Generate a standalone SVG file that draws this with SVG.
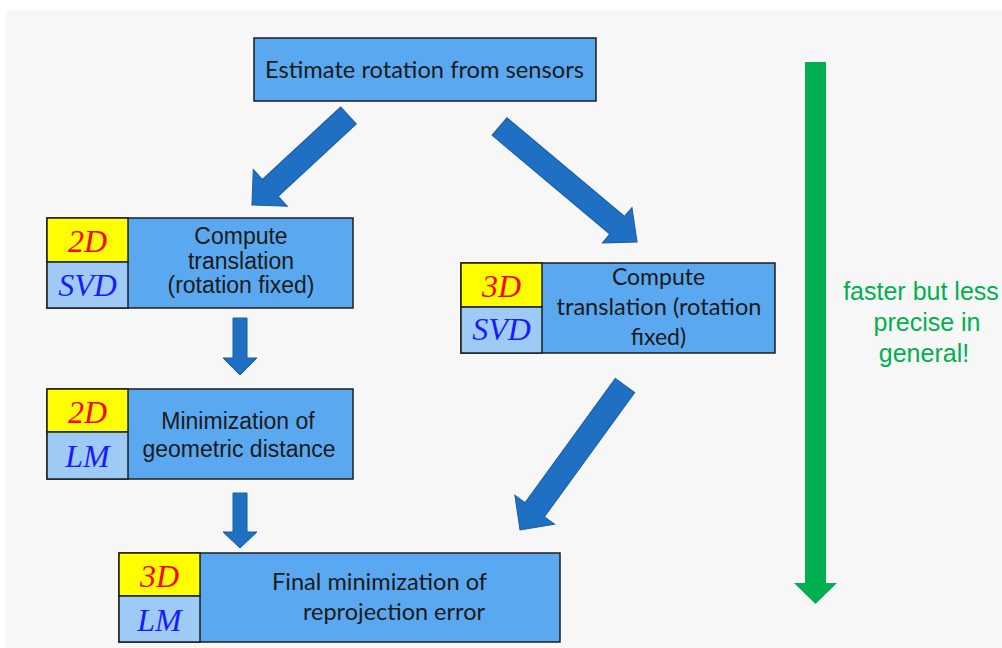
<svg xmlns="http://www.w3.org/2000/svg" width="1002" height="648" viewBox="0 0 1002 648">
<style>
.box{fill:#5aa9f0;stroke:#1e1e1e;stroke-width:1.5}
.yel{fill:#ffff00;stroke:#1e1e1e;stroke-width:1.5}
.lb{fill:#9dcbf6;stroke:#1e1e1e;stroke-width:1.5}
.tag2{font-family:"Liberation Serif",serif;font-style:italic;font-size:32px;fill:#ff0000;text-anchor:middle}
.tagm{font-family:"Liberation Serif",serif;font-style:italic;font-size:32px;fill:#1a1aff;text-anchor:middle}
.ar{font-family:"Liberation Sans",Arial,sans-serif;font-size:23px;fill:#1a1a1a;text-anchor:middle}
.ca{font-family:Lato,"Liberation Sans",sans-serif;font-size:23px;fill:#1a1a1a;text-anchor:middle}
.blue{fill:#1f6fc3;stroke:#185ca6;stroke-width:1}
.green{fill:#00b050}
.gt{font-family:"Liberation Sans",Arial,sans-serif;font-size:25px;fill:#00b050;text-anchor:middle}
</style>
<rect x="0" y="0" width="1002" height="648" fill="#ffffff"/>
<rect x="6" y="10" width="996" height="638" fill="#f7f7f7"/>

<g id="connectors">
<polygon class="blue" transform="translate(348.5,115.5) rotate(137.2)" points="0,-11.5 106.6,-11.5 106.6,-25 131.6,0 106.6,25 106.6,11.5 0,11.5"/>
<polygon class="blue" transform="translate(499.5,126.5) rotate(40)" points="0,-11.5 153.6,-11.5 153.6,-23 179.6,0 153.6,23 153.6,11.5 0,11.5"/>
<polygon class="blue" transform="translate(625,385.5) rotate(126)" points="0,-12 153.6,-12 153.6,-24.5 178.6,0 153.6,24.5 153.6,12 0,12"/>
<polygon class="blue" points="233,318 247,318 247,358 257,358 240,375 223,358 233,358"/>
<polygon class="blue" points="233,493 247,493 247,532 257,532 240,548 223,532 233,532"/>
</g>

<g id="speed-arrow">
<polygon class="green" points="805,62 826,62 826,583 837,583 815.5,604 794,583 805,583"/>
<text class="gt" x="921" y="300">faster but less</text>
<text class="gt" x="927" y="331">precise in</text>
<text class="gt" x="924" y="362">general!</text>
</g>

<g id="node-estimate">
<rect class="box" x="254" y="38" width="342" height="63"/>
<text class="ca" x="424.5" y="78" textLength="319" lengthAdjust="spacingAndGlyphs">Estimate rotation from sensors</text>
</g>

<g id="node-2d-svd">
<rect class="box" x="47" y="218" width="306" height="90"/>
<rect class="yel" x="47" y="218" width="81" height="44"/>
<rect class="lb" x="47" y="262" width="81" height="46"/>
<text class="tag2" x="87.5" y="252">2D</text>
<text class="tagm" x="87.5" y="296">SVD</text>
<text class="ar" x="241" y="244">Compute</text>
<text class="ar" x="241" y="269">translation</text>
<text class="ar" x="241" y="293">(rotation fixed)</text>
</g>

<g id="node-3d-svd">
<rect class="box" x="461" y="263" width="314" height="90"/>
<rect class="yel" x="461" y="263" width="81" height="44"/>
<rect class="lb" x="461" y="307" width="81" height="46"/>
<text class="tag2" x="501.5" y="297">3D</text>
<text class="tagm" x="501.5" y="340">SVD</text>
<text class="ca" x="658.5" y="285">Compute</text>
<text class="ca" x="659" y="315" textLength="205" lengthAdjust="spacingAndGlyphs">translation (rotation</text>
<text class="ca" x="658.5" y="345">fixed)</text>
</g>

<g id="node-2d-lm">
<rect class="box" x="47" y="389" width="306" height="90"/>
<rect class="yel" x="47" y="389" width="81" height="43"/>
<rect class="lb" x="47" y="432" width="81" height="47"/>
<text class="tag2" x="87.5" y="423">2D</text>
<text class="tagm" x="87.5" y="467">LM</text>
<text class="ar" x="238" y="429">Minimization of</text>
<text class="ar" x="239" y="457">geometric distance</text>
</g>

<g id="node-3d-lm">
<rect class="box" x="119" y="553" width="441" height="89"/>
<rect class="yel" x="119" y="553" width="81" height="43"/>
<rect class="lb" x="119" y="596" width="81" height="46"/>
<text class="tag2" x="159.5" y="587">3D</text>
<text class="tagm" x="159.5" y="631">LM</text>
<text class="ca" x="379.5" y="590" textLength="215" lengthAdjust="spacingAndGlyphs">Final minimization of</text>
<text class="ca" x="394" y="620" textLength="182" lengthAdjust="spacingAndGlyphs">reprojection error</text>
</g>
</svg>
